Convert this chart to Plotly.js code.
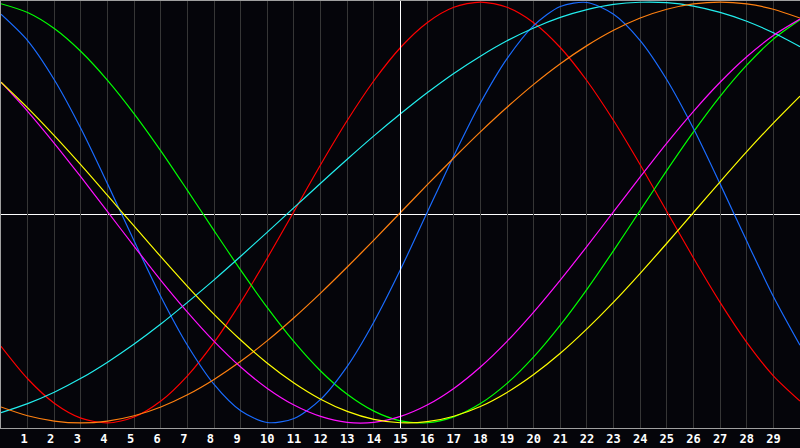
<!DOCTYPE html>
<html>
<head>
<meta charset="utf-8">
<script src="https://cdn.plot.ly/plotly-3.0.1.min.js"></script>
<style>
  html, body { margin: 0; padding: 0; background: #05050a; }
  #chart { width: 800px; height: 448px; }
</style>
</head>
<body>
<div id="chart"></div>
<script>
// x positions, one value per unit step
var xs = [0,1,2,3,4,5,6,7,8,9,10,11,12,13,14,15,16,17,18,19,20,21,22,23,24,25,26,27,28,29,30];

// tick labels along the bottom (single digits sit a little left of their line)
var tickVals = [1,2,3,4,5,6,7,8,9,10,11,12,13,14,15,16,17,18,19,20,21,22,23,24,25,26,27,28,29];
var tickText = tickVals.map(function (v) {
  return '<b>' + (v < 10 ? v + '\u00a0' : String(v)) + '</b>';
});

// series values
var red     = [-0.636,-0.790,-0.906,-0.977,-1.000,-0.972,-0.896,-0.776,-0.617,-0.427,-0.216,0.005,0.227,0.437,0.626,0.784,0.902,0.975,1.000,0.975,0.902,0.784,0.626,0.437,0.227,0.005,-0.216,-0.427,-0.617,-0.776,-0.896];
var green   = [0.992,0.950,0.874,0.765,0.628,0.469,0.293,0.105,-0.086,-0.274,-0.452,-0.614,-0.753,-0.864,-0.944,-0.990,-0.999,-0.971,-0.908,-0.812,-0.686,-0.535,-0.365,-0.181,0.010,0.200,0.383,0.552,0.700,0.824,0.916];
var blue    = [0.942,0.817,0.631,0.399,0.136,-0.136,-0.399,-0.631,-0.817,-0.942,-0.998,-0.979,-0.888,-0.731,-0.520,-0.271,0.000,0.269,0.520,0.731,0.888,0.979,0.998,0.942,0.817,0.631,0.399,0.136,-0.136,-0.399,-0.631];
var cyan    = [-0.951,-0.908,-0.854,-0.788,-0.711,-0.625,-0.530,-0.427,-0.320,-0.208,-0.093,0.023,0.139,0.253,0.364,0.469,0.569,0.661,0.743,0.816,0.877,0.927,0.964,0.989,0.999,0.997,0.981,0.951,0.909,0.854,0.788];
var orange  = [-0.924,-0.966,-0.991,-1.000,-0.991,-0.966,-0.924,-0.866,-0.793,-0.707,-0.609,-0.500,-0.383,-0.259,-0.131,0.000,0.131,0.259,0.383,0.500,0.609,0.707,0.793,0.866,0.924,0.966,0.991,1.000,0.991,0.966,0.924];
var magenta = [0.619,0.481,0.329,0.169,0.004,-0.161,-0.322,-0.473,-0.612,-0.734,-0.836,-0.915,-0.969,-0.997,-0.997,-0.969,-0.915,-0.836,-0.734,-0.612,-0.473,-0.321,-0.161,0.004,0.169,0.330,0.481,0.619,0.740,0.841,0.919];
var yellow  = [0.619,0.497,0.365,0.226,0.081,-0.065,-0.210,-0.351,-0.484,-0.606,-0.716,-0.810,-0.887,-0.945,-0.983,-0.999,-0.994,-0.968,-0.922,-0.855,-0.770,-0.669,-0.553,-0.426,-0.289,-0.146,0.000,0.146,0.289,0.425,0.553];

var series = [
  {y: red,     color: '#ff0000'},
  {y: green,   color: '#00ff00'},
  {y: blue,    color: '#1a6cff'},
  {y: cyan,    color: '#22eeee'},
  {y: orange,  color: '#ff8010'},
  {y: magenta, color: '#ff10ff'},
  {y: yellow,  color: '#ffff00'}
];

var traces = series.map(function (s) {
  return {
    x: xs,
    y: s.y,
    type: 'scatter',
    mode: 'lines',
    line: {color: s.color, width: 1.2, shape: 'spline', smoothing: 0.8},
    hoverinfo: 'none'
  };
});

var layout = {
  width: 800,
  height: 448,
  margin: {l: 1, r: 0, t: 1, b: 20, pad: 0},
  paper_bgcolor: '#05050a',
  plot_bgcolor: '#05050a',
  showlegend: false,
  xaxis: {
    range: [0, 30],
    tickmode: 'array',
    tickvals: tickVals,
    ticktext: tickText,
    ticks: '',
    showgrid: true,
    gridcolor: '#363636',
    gridwidth: 1,
    zeroline: false,
    showline: true,
    linecolor: '#a0a0a0',
    linewidth: 1,
    mirror: true,
    tickfont: {family: 'DejaVu Sans Mono', size: 12, color: '#ffffff'}
  },
  yaxis: {
    range: [-1.024, 1.005],
    showgrid: false,
    zeroline: false,
    showticklabels: false,
    ticks: '',
    showline: true,
    linecolor: '#a0a0a0',
    linewidth: 1
  },
  // white crosshair through the middle of the plot
  shapes: [
    {type: 'line', xref: 'x', yref: 'paper', x0: 15, x1: 15, y0: 0, y1: 1,
     line: {color: '#ffffff', width: 1}, layer: 'above'},
    {type: 'line', xref: 'paper', yref: 'paper', x0: 0, x1: 1, y0: 0.5, y1: 0.5,
     line: {color: '#ffffff', width: 1}, layer: 'below'}
  ]
};

Plotly.newPlot('chart', traces, layout, {staticPlot: true, displayModeBar: false});
</script>
</body>
</html>
